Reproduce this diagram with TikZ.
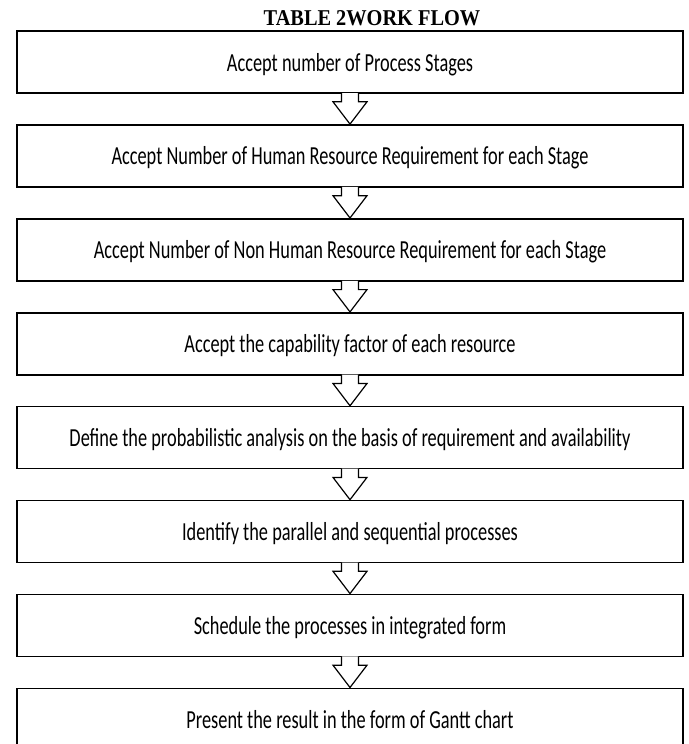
\documentclass[tikz,border=0pt]{standalone}
\usepackage{fontspec}
\usepackage{graphicx}
\usetikzlibrary{calc}
\newfontfamily\carl{Carlito}
\newfontfamily\ttlfont{Liberation Serif}
\newcommand{\bxt}[1]{\scalebox{0.705}[1]{#1}}
\tikzset{
  stagebox/.style={draw, line width=1.6pt, minimum width=666pt, minimum height=62pt,
    inner sep=0pt, text height=19pt, text depth=1pt, font=\carl\fontsize{26}{30}\selectfont},
  flowarrow/.style={draw, fill=white, line width=1.2pt, line join=miter}
}
\begin{document}
\begin{tikzpicture}[x=1pt,y=-1pt]
\useasboundingbox (0,0) rectangle (688,744);
\clip (0,0) rectangle (688,744);
\node[anchor=base, font=\ttlfont\bfseries\fontsize{22.6}{26}\selectfont] (title) at (372,25) {\scalebox{0.9}[1]{TABLE 2WORK FLOW}};
\node[stagebox] (b1) at (350,62) {\bxt{Accept number of Process Stages}};
\node[stagebox] (b2) at (350,155.9) {\bxt{Accept Number of Human Resource Requirement for each Stage}};
\node[stagebox] (b3) at (350,249.8) {\bxt{Accept Number of Non Human Resource Requirement for each Stage}};
\node[stagebox] (b4) at (350,343.7) {\bxt{Accept the capability factor of each resource}};
\node[stagebox] (b5) at (350,437.6) {\bxt{Define the probabilistic analysis on the basis of requirement and availability}};
\node[stagebox] (b6) at (350,531.5) {\bxt{Identify the parallel and sequential processes}};
\node[stagebox] (b7) at (350,625.4) {\bxt{Schedule the processes in integrated form}};
\node[stagebox] (b8) at (350,719.3) {\bxt{Present the result in the form of Gantt chart}};
\foreach \a/\b in {b1/b2,b2/b3,b3/b4,b4/b5,b5/b6,b6/b7,b7/b8}{
  \draw[flowarrow] ($(\a.south)+(-8.5,-0.8)$) -- ($(\a.south)+(-8.5,8)$) -- ($(\a.south)+(-17,8)$)
    -- (\b.north) -- ($(\a.south)+(17,8)$) -- ($(\a.south)+(8.5,8)$) -- ($(\a.south)+(8.5,-0.8)$);
}
\end{tikzpicture}
\end{document}
